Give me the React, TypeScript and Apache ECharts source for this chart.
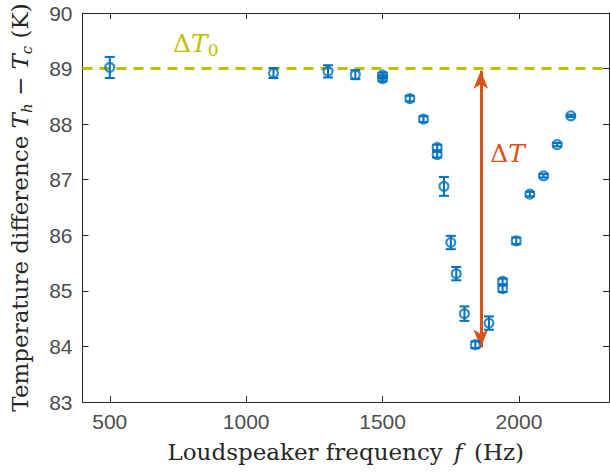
import React, { useEffect, useRef } from 'react';
import * as echarts from 'echarts';

const freqs = [500, 1100, 1300, 1400, 1500, 1500, 1600, 1650, 1700, 1700, 1725, 1750, 1770, 1800, 1840, 1890, 1940, 1940, 1990, 2040, 2090, 2140, 2190];
const temps = [89.02, 88.92, 88.95, 88.89, 88.88, 88.82, 88.46, 88.09, 87.58, 87.45, 86.88, 85.87, 85.31, 84.59, 84.03, 84.42, 85.17, 85.04, 85.9, 86.74, 87.07, 87.63, 88.15];
const errs = [0.19, 0.09, 0.11, 0.08, 0.05, 0.05, 0.05, 0.05, 0.05, 0.05, 0.17, 0.12, 0.12, 0.13, 0.06, 0.12, 0.05, 0.06, 0.06, 0.04, 0.03, 0.03, 0.02];
const xTicks = [500, 1000, 1500, 2000];
const xRange = [400, 2330];
const yRange = [83, 90];
const baselineT = 89;
const arrowF = 1860;
const arrowTop = 88.96;
const arrowBottom = 83.98;
const label0Pos = [815, 89.45];
const labelDPos = [1958, 87.48];

const BLUE = '#0072BD';
const YEL = '#BFBF00';
const ORANGE = '#D95319';
const AXIS = '#262626';
const SERIF = '"DejaVu Serif", "Liberation Serif", serif';
const SANS = '"Liberation Sans", Arial, sans-serif';

export default function App() {
  const ref = useRef<HTMLDivElement>(null);
  useEffect(() => {
    if (!ref.current) return;
    const chart = echarts.init(ref.current, null, { renderer: 'svg' });
    const axisLine = { show: true, lineStyle: { color: AXIS, width: 1 } };
    const tickStyle = { inside: true, length: 6, lineStyle: { color: AXIS, width: 1 } };
    const data = freqs.map((f, i) => [f, temps[i], errs[i]]);
    const option: any = {
      animation: false,
      backgroundColor: '#ffffff',
      grid: { left: 82, right: 1, top: 13, bottom: 73, containLabel: false },
      xAxis: [
        {
          type: 'value', min: xRange[0], max: xRange[1], position: 'bottom',
          axisLine, splitLine: { show: false },
          axisTick: { ...tickStyle, customValues: xTicks },
          axisLabel: {
            customValues: xTicks, fontFamily: SANS, fontSize: 21, color: '#4D4D4D', margin: 9,
            formatter: (v: number) => String(v),
          },
          name: '{n|Loudspeaker frequency }{i|f}{n| (Hz)}',
          nameLocation: 'middle', nameGap: 38,
          nameTextStyle: {
            fontFamily: SERIF, fontSize: 23, color: AXIS,
            rich: {
              n: { fontFamily: SERIF, fontSize: 23, color: AXIS },
              i: { fontFamily: SERIF, fontSize: 23, color: AXIS, fontStyle: 'italic', padding: [0, 4, 0, 4] },
            },
          },
        },
        {
          type: 'value', min: xRange[0], max: xRange[1], position: 'top',
          axisLine, splitLine: { show: false },
          axisTick: { ...tickStyle, customValues: xTicks },
          axisLabel: { show: false },
        },
      ],
      yAxis: [
        {
          type: 'value', min: yRange[0], max: yRange[1], interval: 1, position: 'left',
          axisLine, splitLine: { show: false }, axisTick: tickStyle,
          axisLabel: { fontFamily: SANS, fontSize: 21, color: '#4D4D4D', margin: 10 },
          name: '{n|Temperature difference }{i|T}{s|h}{n| − }{i|T}{s|c}{n| (K)}',
          nameLocation: 'middle', nameGap: 48,
          nameTextStyle: {
            fontFamily: SERIF, fontSize: 23, color: AXIS,
            rich: {
              n: { fontFamily: SERIF, fontSize: 23, color: AXIS, lineHeight: 30 },
              i: { fontFamily: SERIF, fontSize: 23, color: AXIS, fontStyle: 'italic', lineHeight: 30 },
              s: { fontFamily: SERIF, fontSize: 15, color: AXIS, fontStyle: 'italic', verticalAlign: 'bottom', lineHeight: 18 },
            },
          },
        },
        {
          type: 'value', min: yRange[0], max: yRange[1], interval: 1, position: 'right',
          axisLine, splitLine: { show: false }, axisTick: tickStyle,
          axisLabel: { show: false },
        },
      ],
      series: [
        {
          type: 'custom',
          xAxisIndex: 0, yAxisIndex: 0,
          data,
          silent: true,
          z: 3,
          renderItem: (params: any, api: any) => {
            const x = api.value(0);
            const y = api.value(1);
            const e = api.value(2);
            const top = api.coord([x, y + e]);
            const bot = api.coord([x, y - e]);
            const hw = 5;
            const st = { stroke: BLUE, lineWidth: 2 };
            return {
              type: 'group',
              children: [
                { type: 'line', shape: { x1: top[0], y1: top[1], x2: bot[0], y2: bot[1] }, style: st },
                { type: 'line', shape: { x1: top[0] - hw, y1: top[1], x2: top[0] + hw, y2: top[1] }, style: st },
                { type: 'line', shape: { x1: bot[0] - hw, y1: bot[1], x2: bot[0] + hw, y2: bot[1] }, style: st },
              ],
            };
          },
        },
        {
          type: 'scatter',
          xAxisIndex: 0, yAxisIndex: 0,
          data: data.map((d) => [d[0], d[1]]),
          symbol: 'circle',
          symbolSize: 9,
          z: 4,
          itemStyle: { color: 'rgba(0,0,0,0)', borderColor: BLUE, borderWidth: 2.2 },
          markLine: {
            silent: true,
            z: 2,
            data: [
              { yAxis: baselineT, symbol: 'none', lineStyle: { color: YEL, width: 3, type: [10, 7] } },
              [
                { coord: [arrowF, arrowTop], symbol: 'arrow', symbolSize: [11, 18] },
                { coord: [arrowF, arrowBottom], symbol: 'arrow', symbolSize: [11, 18] },
              ],
            ],
            symbol: ['none', 'none'],
            lineStyle: { color: ORANGE, width: 3, type: 'solid' },
            itemStyle: { color: ORANGE },
            label: { show: false },
          },
          markPoint: {
            silent: true,
            symbol: 'circle',
            symbolSize: 1,
            itemStyle: { color: 'rgba(0,0,0,0)' },
            data: [
              {
                coord: label0Pos,
                label: {
                  show: true, position: 'inside',
                  formatter: '{d|Δ}{i|T}{s|0}',
                  rich: {
                    d: { fontFamily: SERIF, fontSize: 25, color: YEL, lineHeight: 30 },
                    i: { fontFamily: SERIF, fontSize: 25, color: YEL, fontStyle: 'italic', lineHeight: 30 },
                    s: { fontFamily: SERIF, fontSize: 17, color: YEL, verticalAlign: 'bottom', lineHeight: 20 },
                  },
                },
              },
              {
                coord: labelDPos,
                label: {
                  show: true, position: 'inside',
                  formatter: '{d|Δ}{i|T}',
                  rich: {
                    d: { fontFamily: SERIF, fontSize: 25, color: ORANGE },
                    i: { fontFamily: SERIF, fontSize: 25, color: ORANGE, fontStyle: 'italic' },
                  },
                },
              },
            ],
          },
        },
      ],
    };
    chart.setOption(option);
    return () => chart.dispose();
  }, []);
  return <div ref={ref} style={{ position: 'absolute', left: 0, top: 0, width: 610, height: 475 }} />;
}
